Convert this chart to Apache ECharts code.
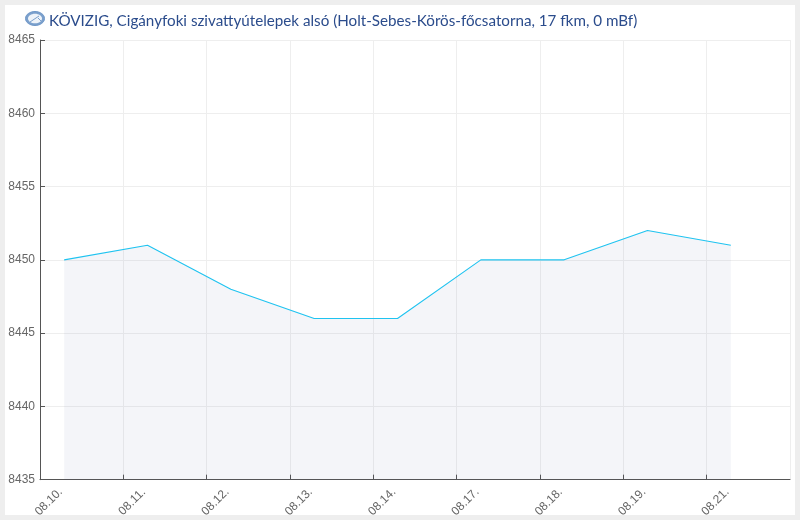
<!DOCTYPE html>
<html><head><meta charset="utf-8">
<script src="https://cdn.jsdelivr.net/npm/echarts@6/dist/echarts.min.js"></script>
<style>
html,body{margin:0;padding:0;background:#eeeeee;width:800px;height:520px;overflow:hidden}
#panel{position:absolute;left:5px;top:5px;width:790px;height:510px;background:#fff}
#c{position:absolute;left:0;top:0;width:800px;height:520px}
</style></head><body><div id="panel"></div><div id="c"></div>
<script>
const titleText = 'KÖVIZIG, Cigányfoki szivattyútelepek alsó (Holt-Sebes-Körös-főcsatorna, 17 fkm, 0 mBf)';
const dayLabels = ['08.10.','08.11.','08.12.','08.13.','08.14.','08.17.','08.18.','08.19.','08.21.'];
const readingPositions = [0.29,1.29,2.29,3.29,4.29,5.29,6.29,7.29,8.29];
const levels = [8450,8451,8448,8446,8446,8450,8450,8452,8451];
const yMin = 8435, yMax = 8465, yStep = 5;

const chart = echarts.init(document.getElementById('c'), null, {renderer:'canvas'});
chart.setOption({
  backgroundColor:'transparent',
  animation:false,
  title:{text:titleText,left:44,top:9,textStyle:{fontFamily:'Lato',fontSize:15.2,fontWeight:'normal',color:'#2b4c8c'}},
  graphic:[
    {type:'ellipse',shape:{cx:35,cy:18.5,rx:9.5,ry:7},style:{fill:'#7ba0cc',stroke:'#6f97c8',lineWidth:1}},
    {type:'ellipse',shape:{cx:35,cy:18.5,rx:7,ry:4.8},style:{fill:'#eef3f9'}},
    {type:'line',shape:{x1:30,y1:22,x2:39,y2:16},style:{stroke:'#7ba0cc',lineWidth:1}},
    {type:'line',shape:{x1:38,y1:18,x2:42,y2:22},style:{stroke:'#7ba0cc',lineWidth:1}}
  ],
  grid:{left:40,right:10,top:40,bottom:40,containLabel:false},
  xAxis:{type:'value',min:0,max:dayLabels.length,interval:1,
    axisLine:{show:true,lineStyle:{color:'#555',width:1}},
    axisTick:{show:true,inside:true,length:5,lineStyle:{color:'#555',width:1}},
    splitLine:{show:true,lineStyle:{color:'#eeeeee',width:1}},
    axisLabel:{show:true,rotate:45,margin:31,align:'center',verticalAlign:'middle',padding:[0,0,0,25],
      showMinLabel:true,showMaxLabel:false,hideOverlap:false,
      color:'#666',fontFamily:'Liberation Sans',fontSize:12,
      formatter:v=>dayLabels[v]||''}},
  yAxis:{type:'value',min:yMin,max:yMax,interval:yStep,
    axisLine:{show:true,lineStyle:{color:'#555',width:1}},
    axisTick:{show:true,inside:true,length:5,lineStyle:{color:'#555',width:1}},
    splitLine:{show:true,lineStyle:{color:'#eeeeee',width:1}},
    axisLabel:{margin:5,color:'#666',fontFamily:'Liberation Sans',fontSize:12,formatter:v=>String(v)}},
  series:[{type:'line',data:readingPositions.map((x,i)=>[x,levels[i]]),
    symbol:'none',smooth:false,
    lineStyle:{color:'#1fc3f0',width:1.1},
    areaStyle:{color:'rgb(69,84,155)',opacity:0.06,origin:'start'},
    z:2}]
});
</script></body></html>
